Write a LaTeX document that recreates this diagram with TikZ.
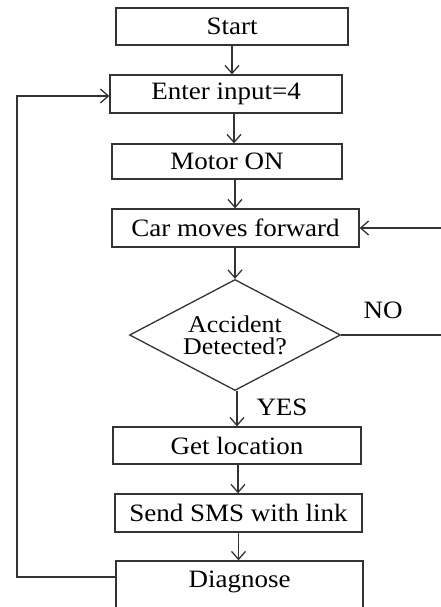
\documentclass[tikz,border=0pt]{standalone}
\usepackage{graphicx}
\usepackage{fontspec}
\setmainfont{Liberation Serif}
\usetikzlibrary{shapes.geometric,arrows.meta}
\newcommand{\wtxt}[1]{\scalebox{1.08}[1]{#1}}
\begin{document}
\begin{tikzpicture}[x=1pt,y=1pt,
  line width=1.3pt,
  every node/.style={font=\fontsize{25}{27}\selectfont, text=black},
  procbox/.style={draw=black!80, rectangle, inner sep=0pt},
  decbox/.style={draw=black!80, diamond, inner sep=0pt, aspect=1.9, minimum width=211pt, minimum height=111pt,
     align=center, font=\fontsize{24}{22}\selectfont},
  flow/.style={draw=black!80, -{Straight Barb[length=8pt,width=14pt,line width=1.3pt]}},
  plain/.style={draw=black!80}]
\useasboundingbox (0,0) rectangle (441,-607);
\clip (0,0) rectangle (441,-607);
\node[procbox, minimum width=232pt, minimum height=37pt] (start) at (232,-26.5) {\wtxt{Start}};
\node[procbox, minimum width=232pt, minimum height=38pt] (enter) at (226,-94) {\wtxt{Enter input=4}};
\node[procbox, minimum width=230pt, minimum height=35pt] (motor) at (227,-161.5) {\wtxt{Motor ON}};
\node[procbox, minimum width=247pt, minimum height=38pt] (car) at (235.5,-228) {\wtxt{Car moves forward}};
\node[decbox] (dec) at (235,-335) {\wtxt{Accident}\\\wtxt{Detected?}};
\node[procbox, minimum width=248pt, minimum height=37pt] (loc) at (237,-445.5) {\wtxt{Get location}};
\node[procbox, minimum width=247pt, minimum height=38pt] (sms) at (238.5,-513) {\wtxt{Send SMS with link}};
\node[procbox, minimum width=247pt, text height=26pt, text depth=40pt, inner ysep=0pt, anchor=base] (diag) at (239.5,-587) {\wtxt{Diagnose}};
\node (no) at (383,-310) {\wtxt{NO}};
\node (yes) at (282,-407) {\wtxt{YES}};
\coordinate (rb) at (446,-335);
\coordinate (rt) at (446,-228);
\coordinate (lb) at (17,-577);
\coordinate (lt) at (17,-96);
\draw[flow] (start.south) -- (start.south |- enter.north);
\draw[flow] ([xshift=8pt]enter.south) -- ([xshift=8pt]enter.south |- motor.north);
\draw[flow] ([xshift=8pt]motor.south) -- ([xshift=8pt]motor.south |- car.north);
\draw[flow] (dec.north |- car.south) -- (dec.north);
\draw[flow] ([xshift=2pt]dec.south) -- ([xshift=2pt]dec.south |- loc.north);
\draw[flow] ([xshift=1pt]loc.south) -- ([xshift=1pt]loc.south |- sms.north);
\draw[flow] (sms.south) -- (sms.south |- diag.north);
\draw[flow] (dec.east) -- (rb) -- (rt) -- (car.east);
\draw[flow] (diag.west |- lb) -- (lb) -- (lt) -- (enter.west |- lt);
\end{tikzpicture}
\end{document}
